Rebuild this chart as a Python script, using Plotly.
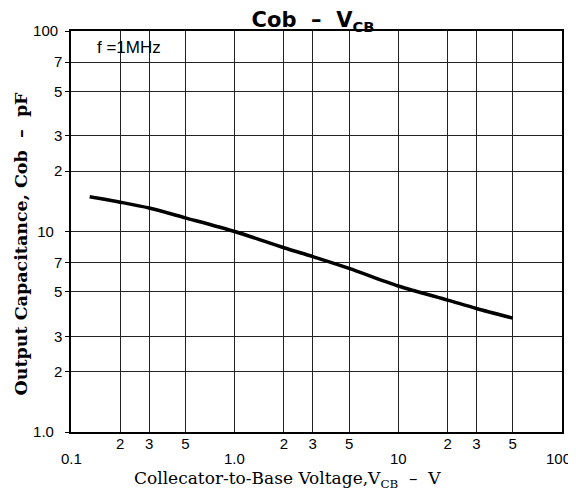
import math
import plotly.graph_objects as go

# Data
vcb = [0.13, 0.2, 0.3, 0.5, 1.0, 2.0, 3.0, 5.0, 10.0, 20.0, 30.0, 50.0]
cob = [14.9, 14.0, 13.1, 11.7, 10.0, 8.3, 7.5, 6.55, 5.35, 4.55, 4.13, 3.7]

x_tickvals = [0.1, 0.2, 0.3, 0.5, 1, 2, 3, 5, 10, 20, 30, 50, 100]
x_ticktext = ["", "2", "3", "5", "", "2", "3", "5", "", "2", "3", "5", ""]
x_decades = [0.1, 1, 10, 100]
x_decade_text = ["0.1", "1.0", "10", "100"]
y_tickvals = [1, 2, 3, 5, 7, 10, 20, 30, 50, 70, 100]
y_ticktext = ["1.0\u00a0\u00a0", "2", "3", "5", "7", "10\u00a0\u00a0", "2", "3", "5", "7",
              "100\u00a0"]

title_text = "Cob  –  V<sub>CB</sub>"
x_title = "Collecator-to-Base Voltage,V<sub>CB</sub>  –  V"
y_title = "Output Capacitance, Cob  –  pF"
note_text = "f =1MHz"

fig = go.Figure()
fig.add_trace(go.Scatter(
    x=vcb, y=cob, mode="lines",
    line=dict(color="black", width=3.5, shape="spline", smoothing=0.8),
    showlegend=False,
))

tick_font = dict(family="Liberation Sans", size=15, color="black")

annotations = [
    dict(text=t, xref="x", yref="paper", x=math.log10(v), y=0, yshift=-26,
         xshift=(-4 if i == len(x_decades) - 1 else 0),
         xanchor="center", yanchor="middle", showarrow=False, font=tick_font)
    for i, (v, t) in enumerate(zip(x_decades, x_decade_text))
]
annotations += [
    dict(text=x_title, xref="paper", yref="paper", x=0.44, y=0, yshift=-47,
         xanchor="center", yanchor="middle", showarrow=False,
         font=dict(family="DejaVu Serif", size=17, color="black")),
    dict(text=y_title, xref="paper", yref="paper", x=0, y=0.47, xshift=-50,
         xanchor="center", yanchor="middle", showarrow=False, textangle=-90,
         font=dict(family="DejaVu Serif", size=17.5, color="black", weight="bold")),
    dict(text=note_text, xref="paper", yref="paper", x=0, y=1, xshift=24, yshift=-16,
         xanchor="left", yanchor="middle", showarrow=False,
         font=dict(family="Liberation Sans", size=17, color="black")),
]

fig.update_layout(
    width=568, height=483,
    margin=dict(l=63, r=14, t=23, b=59),
    paper_bgcolor="white", plot_bgcolor="white",
    title=dict(text=title_text, x=0.537, xanchor="center", y=0.975, yanchor="middle",
               font=dict(family="DejaVu Sans", size=21, color="black", weight="bold")),
    xaxis=dict(
        type="log", range=[-1, 2],
        tickmode="array", tickvals=x_tickvals, ticktext=x_ticktext,
        showgrid=True, gridcolor="#222", gridwidth=1,
        showline=True, linecolor="black", linewidth=1.5, mirror=True,
        ticks="", tickfont=tick_font, zeroline=False, ticklabelstandoff=-3,
    ),
    yaxis=dict(
        type="log", range=[0, 2],
        tickmode="array", tickvals=y_tickvals, ticktext=y_ticktext,
        showgrid=True, gridcolor="#222", gridwidth=1,
        showline=True, linecolor="black", linewidth=1.5, mirror=True,
        ticks="outside", ticklen=4, tickcolor="black",
        tickfont=tick_font, zeroline=False,
    ),
    annotations=annotations,
)

fig.write_html("out.html")
